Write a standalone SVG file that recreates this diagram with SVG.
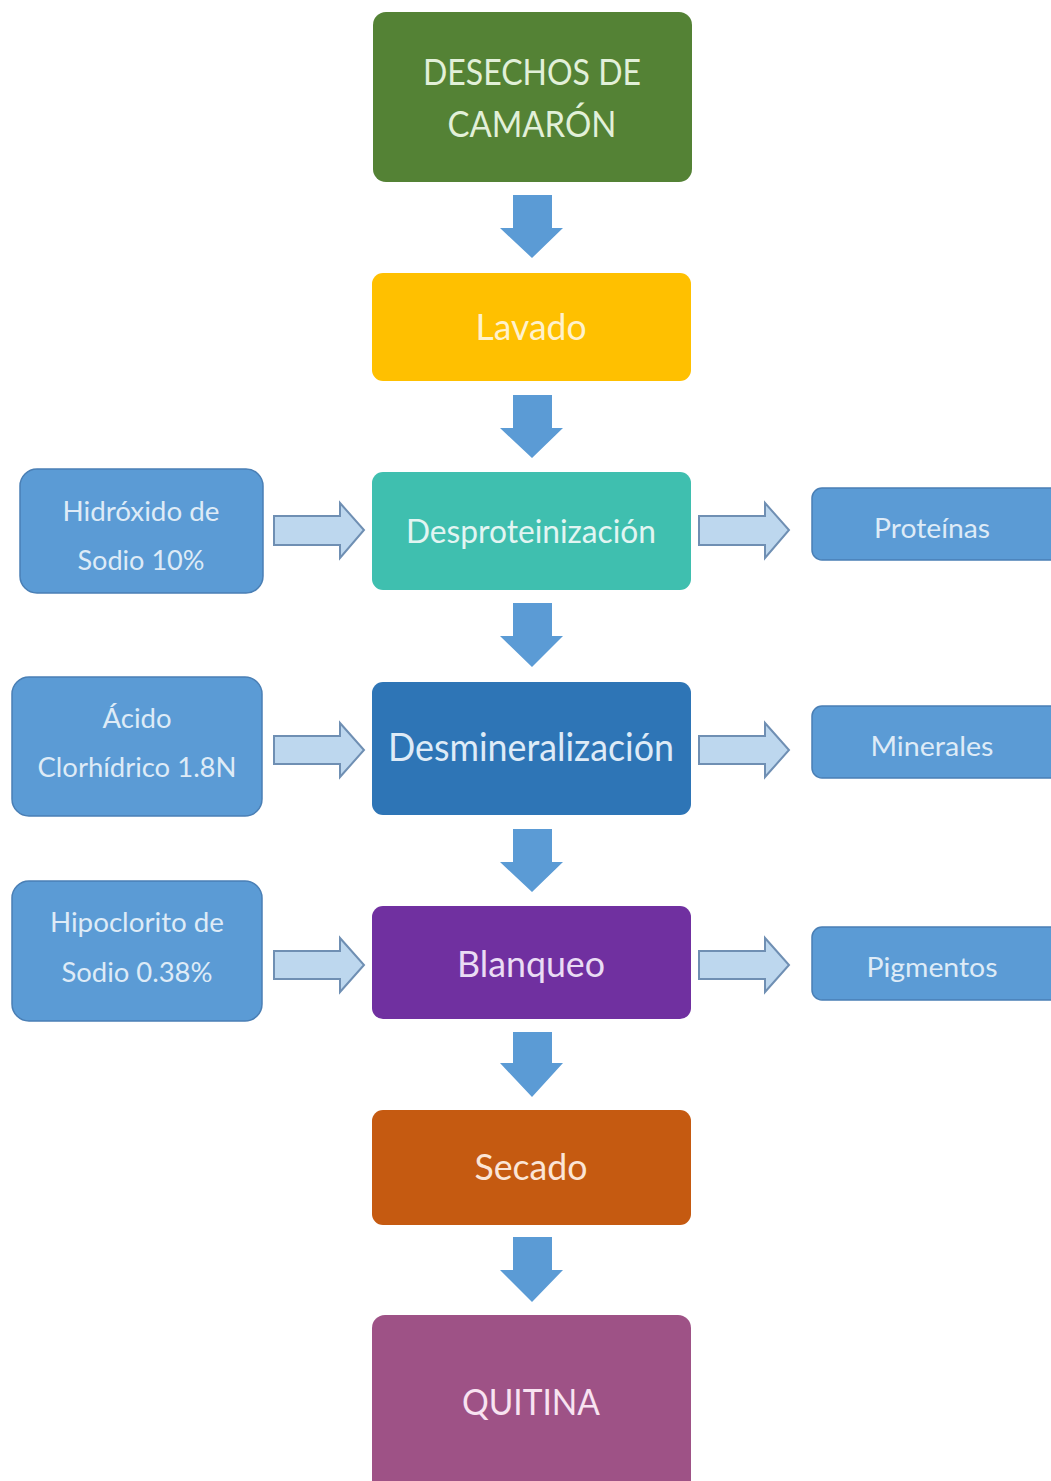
<svg xmlns="http://www.w3.org/2000/svg" width="1051" height="1481" viewBox="0 0 1051 1481">
<style>
text{font-family:Lato,"Open Sans","Liberation Sans",sans-serif;text-anchor:middle}
.side rect{fill:#5B9BD5;stroke:#4A7FB5;stroke-width:1.5}
.side text{fill:#DEEBF7;font-size:26px}
.main text{font-size:36px}
.down{fill:#5B9BD5}
.hollow{fill:#BDD7EE;stroke:#6F8FB3;stroke-width:2;stroke-linejoin:miter}
</style>
<rect width="1051" height="1481" fill="#ffffff"/>
<g id="n-desechos" class="main"><rect x="373" y="12" width="319" height="170" rx="13" fill="#548235"/><text x="532" y="85" fill="#E2F0D9" textLength="218" lengthAdjust="spacingAndGlyphs">DESECHOS DE</text><text x="532" y="137" fill="#E2F0D9" textLength="169" lengthAdjust="spacingAndGlyphs">CAMARÓN</text></g>
<g id="n-lavado" class="main"><rect x="372" y="273" width="319" height="108" rx="11" fill="#FFC000"/><text x="531" y="340" fill="#FFF2CC" textLength="111" lengthAdjust="spacingAndGlyphs">Lavado</text></g>
<g id="n-desprot" class="main"><rect x="372" y="472" width="319" height="118" rx="11" fill="#3FBFAF"/><text x="531" y="543" fill="#E2F5F2" font-size="32" style="font-size:32px" textLength="250" lengthAdjust="spacingAndGlyphs">Desproteinización</text></g>
<g id="n-desmin" class="main"><rect x="372" y="682" width="319" height="133" rx="11" fill="#2E75B6"/><text x="531" y="761" fill="#DEEBF7" style="font-size:38px" textLength="286" lengthAdjust="spacingAndGlyphs">Desmineralización</text></g>
<g id="n-blanqueo" class="main"><rect x="372" y="906" width="319" height="113" rx="11" fill="#7030A0"/><text x="531" y="977" fill="#EADCF4" textLength="148" lengthAdjust="spacingAndGlyphs">Blanqueo</text></g>
<g id="n-secado" class="main"><rect x="372" y="1110" width="319" height="115" rx="11" fill="#C55A11"/><text x="531" y="1180" fill="#FBE5D6" textLength="113" lengthAdjust="spacingAndGlyphs">Secado</text></g>
<g id="n-quitina" class="main"><rect x="372" y="1315" width="319" height="180" rx="13" fill="#9E5286"/><text x="531" y="1415" fill="#F8E3F1" textLength="138" lengthAdjust="spacingAndGlyphs">QUITINA</text></g>
<g id="n-hidroxido" class="side"><rect x="20" y="469" width="243" height="124" rx="17"/><text x="141" y="521" textLength="157" lengthAdjust="spacingAndGlyphs">Hidróxido de</text><text x="141" y="570" textLength="127" lengthAdjust="spacingAndGlyphs">Sodio 10%</text></g>
<g id="n-acido" class="side"><rect x="12" y="677" width="250" height="139" rx="17"/><text x="137" y="728" textLength="69" lengthAdjust="spacingAndGlyphs">Ácido</text><text x="137" y="777" textLength="199" lengthAdjust="spacingAndGlyphs">Clorhídrico 1.8N</text></g>
<g id="n-hipoclorito" class="side"><rect x="12" y="881" width="250" height="140" rx="17"/><text x="137" y="932" textLength="174" lengthAdjust="spacingAndGlyphs">Hipoclorito de</text><text x="137" y="982" textLength="151" lengthAdjust="spacingAndGlyphs">Sodio 0.38%</text></g>
<g id="n-proteinas" class="side"><rect x="812" y="488" width="250" height="72" rx="10"/><text x="932" y="538" textLength="116" lengthAdjust="spacingAndGlyphs">Proteínas</text></g>
<g id="n-minerales" class="side"><rect x="812" y="706" width="250" height="72" rx="10"/><text x="932" y="756" textLength="123" lengthAdjust="spacingAndGlyphs">Minerales</text></g>
<g id="n-pigmentos" class="side"><rect x="812" y="927" width="250" height="73" rx="10"/><text x="932" y="977" textLength="131" lengthAdjust="spacingAndGlyphs">Pigmentos</text></g>
<g id="connectors">
<path class="down" d="M513,195 H552 V228 H563 L532,258 L500,228 H513 Z"/>
<path class="down" d="M513,395 H552 V428 H563 L532,458 L500,428 H513 Z"/>
<path class="down" d="M513,603 H552 V636 H563 L532,667 L500,636 H513 Z"/>
<path class="down" d="M513,829 H552 V862 H563 L532,892 L500,862 H513 Z"/>
<path class="down" d="M513,1032 H552 V1063 H563 L532,1097 L500,1063 H513 Z"/>
<path class="down" d="M513,1237 H552 V1270 H563 L532,1302 L500,1270 H513 Z"/>
<path class="hollow" d="M274,516 H340 V503 L364,530 L340,558 V545 H274 Z"/>
<path class="hollow" d="M274,736 H340 V723 L364,750 L340,777 V764 H274 Z"/>
<path class="hollow" d="M274,951 H340 V938 L364,965 L340,992 V979 H274 Z"/>
<path class="hollow" d="M699,516 H765 V503 L789,530 L765,558 V545 H699 Z"/>
<path class="hollow" d="M699,736 H765 V723 L789,750 L765,777 V764 H699 Z"/>
<path class="hollow" d="M699,951 H765 V938 L789,965 L765,992 V979 H699 Z"/>
</g>
</svg>
